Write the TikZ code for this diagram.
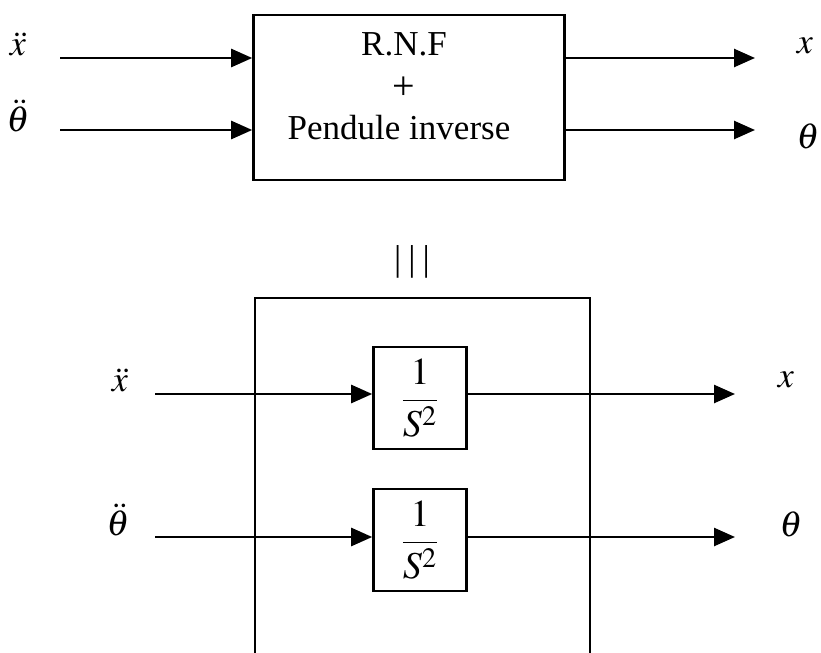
\documentclass[tikz,border=0pt]{standalone}
\usepackage{amsmath}
\usepackage{mathptmx}
\usepackage[no-math]{fontspec}
\setmainfont{Liberation Serif}
\usetikzlibrary{arrows.meta}

\begin{document}
\begin{tikzpicture}[x=0.5pt,y=-0.5pt,line width=1.3pt,
  >={Triangle[length=10.5pt,width=9pt]},
  font=\fontsize{17.5}{21}\selectfont,
  blk/.style={draw,inner sep=0pt},
  lbl/.style={inner sep=0pt,font=\fontsize{18}{20}\selectfont},
  frac/.style={font=\fontsize{19}{22}\selectfont}]
  \clip (0,0) rectangle (821,653);
  % equivalent system (top)
  \node[blk,minimum width=155.5pt,minimum height=82.5pt] (rnf) at (409,97.5) {};
  \node[inner sep=0pt] (rnfa) at (404,44) {R.N.F};
  \node[inner sep=0pt,font=\fontsize{20}{22}\selectfont] (plus) at (404,88) {+};
  \node[inner sep=0pt] (rnfb) at (399,128) {Pendule inverse};
  \coordinate (inx) at (60,58);
  \coordinate (inth) at (60,130);
  \coordinate (outx) at (755,58);
  \coordinate (outth) at (755,130);
  \draw[->] (inx) -- (inx -| rnf.west);
  \draw[->] (inth) -- (inth -| rnf.west);
  \draw[->] (outx -| rnf.east) -- (outx);
  \draw[->] (outth -| rnf.east) -- (outth);
  \node[lbl] (ddx) at (18,44) {$\ddot{x}$};
  \node[lbl] (ddth) at (18,116) {$\ddot{\theta}$};
  \node[lbl] (x) at (805,46) {$x$};
  \node[lbl] (th) at (808,136) {$\theta$};
  \node[lbl] (equiv) at (412,262) {|\kern3.5pt|\kern3.5pt|};
  % double integrator
  \node[blk,minimum width=167.5pt,minimum height=186pt] (outer) at (422.5,484) {};
  \node[blk,frac,minimum width=46.5pt,minimum height=51pt] (intx) at (420,398) {$\dfrac{1}{S^{2}}$};
  \node[blk,frac,minimum width=46.5pt,minimum height=51pt] (intth) at (420,540) {$\dfrac{1}{S^{2}}$};
  \coordinate (inx2) at (155,394);
  \coordinate (inth2) at (155,537);
  \coordinate (outx2) at (735,394);
  \coordinate (outth2) at (735,537);
  \draw[->] (inx2) -- (inx2 -| intx.west);
  \draw[->] (inth2) -- (inth2 -| intth.west);
  \draw[->] (outx2 -| intx.east) -- (outx2);
  \draw[->] (outth2 -| intth.east) -- (outth2);
  \node[lbl] (ddx2) at (120,380) {$\ddot{x}$};
  \node[lbl] (ddth2) at (118,520) {$\ddot{\theta}$};
  \node[lbl] (x2) at (786,380) {$x$};
  \node[lbl] (th2) at (791,524) {$\theta$};
\end{tikzpicture}
\end{document}
